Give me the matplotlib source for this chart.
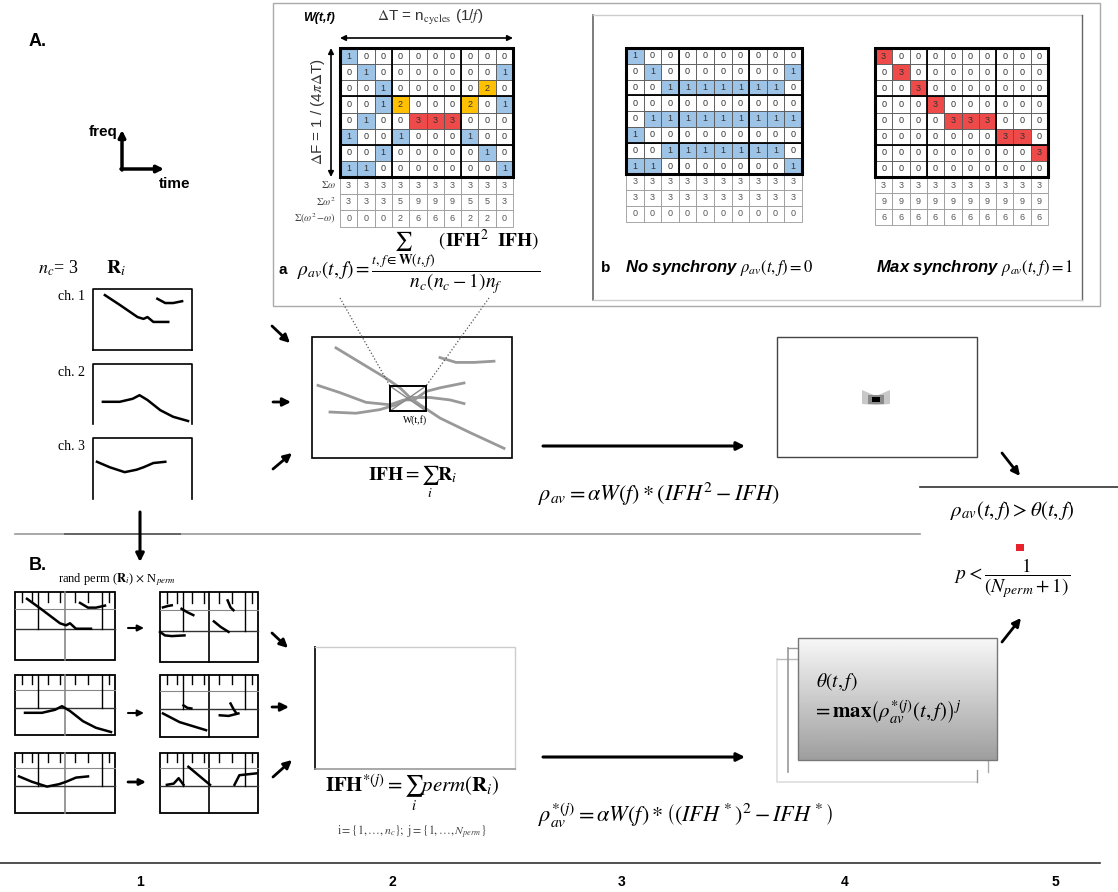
import numpy as np
import matplotlib
matplotlib.use("Agg")
import matplotlib.pyplot as plt
from matplotlib.patches import Rectangle, Polygon

plt.rcParams['mathtext.fontset'] = 'stix'
plt.rcParams['font.family'] = ['Liberation Serif', 'DejaVu Sans']
SANS = 'Liberation Sans'

# ---------------- data ----------------
# window matrices (0 = empty, 1 = blue, 2 = orange, 3 = red)
mat_a = [
    [1, 0, 0, 0, 0, 0, 0, 0, 0, 0],
    [0, 1, 0, 0, 0, 0, 0, 0, 0, 1],
    [0, 0, 1, 0, 0, 0, 0, 0, 2, 0],
    [0, 0, 1, 2, 0, 0, 0, 2, 0, 1],
    [0, 1, 0, 0, 3, 3, 3, 0, 0, 0],
    [1, 0, 0, 1, 0, 0, 0, 1, 0, 0],
    [0, 0, 1, 0, 0, 0, 0, 0, 1, 0],
    [1, 1, 0, 0, 0, 0, 0, 0, 0, 1],
]
mat_nosync = [
    [1, 0, 0, 0, 0, 0, 0, 0, 0, 0],
    [0, 1, 0, 0, 0, 0, 0, 0, 0, 1],
    [0, 0, 1, 1, 1, 1, 1, 1, 1, 0],
    [0, 0, 0, 0, 0, 0, 0, 0, 0, 0],
    [0, 1, 1, 1, 1, 1, 1, 1, 1, 1],
    [1, 0, 0, 0, 0, 0, 0, 0, 0, 0],
    [0, 0, 1, 1, 1, 1, 1, 1, 1, 0],
    [1, 1, 0, 0, 0, 0, 0, 0, 0, 1],
]
mat_maxsync = [
    [3, 0, 0, 0, 0, 0, 0, 0, 0, 0],
    [0, 3, 0, 0, 0, 0, 0, 0, 0, 0],
    [0, 0, 3, 0, 0, 0, 0, 0, 0, 0],
    [0, 0, 0, 3, 0, 0, 0, 0, 0, 0],
    [0, 0, 0, 0, 3, 3, 3, 0, 0, 0],
    [0, 0, 0, 0, 0, 0, 0, 3, 3, 0],
    [0, 0, 0, 0, 0, 0, 0, 0, 0, 3],
    [0, 0, 0, 0, 0, 0, 0, 0, 0, 0],
]
sum_labels = [r"$\Sigma\omega$", r"$\Sigma\omega^2$", r"$\Sigma(\omega^2\!-\!\omega)$"]
channel_labels = ["ch. 1", "ch. 2", "ch. 3"]
step_labels = ["1", "2", "3", "4", "5"]

# ridge traces per channel (relative x, relative y from top)
ch1_a_x = [0.12, 0.27, 0.45, 0.51, 0.55, 0.61, 0.76]
ch1_a_y = [0.10, 0.26, 0.46, 0.49, 0.46, 0.54, 0.54]
ch1_b_x = [0.65, 0.73, 0.81, 0.90]
ch1_b_y = [0.16, 0.23, 0.23, 0.20]
ch2_x = [0.10, 0.27, 0.40, 0.47, 0.55, 0.68, 0.81, 0.96]
ch2_y = [0.63, 0.63, 0.58, 0.52, 0.60, 0.77, 0.88, 0.95]
ch3_x = [0.04, 0.17, 0.32, 0.44, 0.51, 0.61, 0.73]
ch3_y = [0.39, 0.48, 0.56, 0.52, 0.48, 0.41, 0.39]

# permuted traces (relative coords)
perm1 = [([0.03, 0.08, 0.12], [0.22, 0.20, 0.19]),
         ([0.22, 0.28, 0.34], [0.24, 0.29, 0.33]),
         ([0.00, 0.05, 0.12, 0.25], [0.57, 0.62, 0.63, 0.62]),
         ([0.55, 0.62, 0.70], [0.42, 0.50, 0.57]),
         ([0.69, 0.72, 0.75], [0.12, 0.22, 0.26])]
perm2 = [([0.03, 0.20, 0.47], [0.62, 0.76, 0.89]),
         ([0.24, 0.28, 0.32], [0.49, 0.53, 0.54]),
         ([0.61, 0.70, 0.80], [0.65, 0.66, 0.62]),
         ([0.72, 0.75, 0.78], [0.46, 0.55, 0.62])]
perm3 = [([0.07, 0.14, 0.19, 0.24], [0.53, 0.51, 0.42, 0.53]),
         ([0.29, 0.40, 0.51], [0.23, 0.38, 0.53]),
         ([0.76, 0.81, 0.98], [0.53, 0.37, 0.34])]

# summed IFH traces (relative to IFH box)
ifh1_x = [0.12, 0.24, 0.37, 0.44, 0.49, 0.54, 0.64, 0.79, 0.96]
ifh1_y = [0.09, 0.21, 0.34, 0.42, 0.50, 0.56, 0.67, 0.79, 0.92]
ifh2_x = [0.03, 0.14, 0.27, 0.39, 0.46, 0.51, 0.57, 0.64, 0.76]
ifh2_y = [0.40, 0.46, 0.54, 0.56, 0.52, 0.52, 0.45, 0.42, 0.38]
ifh3_x = [0.09, 0.22, 0.34, 0.42, 0.49, 0.59, 0.69, 0.76]
ifh3_y = [0.62, 0.63, 0.60, 0.56, 0.50, 0.50, 0.52, 0.55]
ifh4_x = [0.64, 0.72, 0.81, 0.91]
ifh4_y = [0.17, 0.21, 0.21, 0.20]

cell_colors = {0: 'white', 1: '#9DC3E6', 2: '#FFC000', 3: '#EE4A4A'}

# ---------------- figure ----------------
fig = plt.figure(figsize=(11.18, 8.92), dpi=100)
ax = fig.add_axes([0, 0, 1, 1])
ax.set_xlim(0, 1118)
ax.set_ylim(892, 0)
ax.axis('off')


def arrow(x0, y0, x1, y1, lw=2.0, ms=12):
    ax.annotate('', xy=(x1, y1), xytext=(x0, y0),
                arrowprops=dict(arrowstyle='-|>', lw=lw, color='black',
                                mutation_scale=ms, shrinkA=0, shrinkB=0))


def rect(x0, y0, x1, y1, ec='black', lw=1.0, fc='none', z=1):
    ax.add_patch(Rectangle((x0, y0), x1 - x0, y1 - y0, fill=(fc != 'none'),
                           facecolor=fc, edgecolor=ec, lw=lw, zorder=z))


def draw_matrix(M, x0, y0, x1, y_main, y_end):
    M = np.array(M)
    nr, nc = M.shape
    cw = (x1 - x0) / nc
    rh = (y_main - y0) / nr
    eh = (y_end - y_main) / 3
    for r in range(nr):
        for c in range(nc):
            v = int(M[r, c])
            ax.add_patch(Rectangle((x0 + c * cw, y0 + r * rh), cw, rh,
                                   facecolor=cell_colors[v], edgecolor='#555555', lw=0.6, zorder=2))
            ax.text(x0 + (c + 0.5) * cw, y0 + (r + 0.5) * rh, str(v), ha='center', va='center',
                    fontsize=6.5, color='#333333', family=SANS, zorder=3)
    w = M
    rows = [w.sum(0), (w ** 2).sum(0), (w ** 2 - w).sum(0)]
    for k, vals in enumerate(rows):
        for c in range(nc):
            ax.add_patch(Rectangle((x0 + c * cw, y_main + k * eh), cw, eh, facecolor='white',
                                   edgecolor='#999999', lw=0.6, zorder=2))
            ax.text(x0 + (c + 0.5) * cw, y_main + (k + 0.5) * eh, str(int(vals[c])), ha='center',
                    va='center', fontsize=6.5, color='#555555', family=SANS, zorder=3)
    for c in (3, 7):
        ax.plot([x0 + c * cw] * 2, [y0, y_main], color='black', lw=1.3, zorder=4)
    for r in (3, 6):
        ax.plot([x0, x1], [y0 + r * rh] * 2, color='black', lw=1.3, zorder=4)
    rect(x0, y0, x1, y_main, lw=2.2, z=5)


# ---------- top panels ----------
rect(273, 3, 1100, 306, ec='#aaaaaa', lw=1.0)
ax.plot([593, 593], [15, 300], color='#666666', lw=1.2)
ax.plot([593, 1082], [15, 15], color='#cccccc', lw=1.0)
ax.plot([1082, 1082], [15, 300], color='#666666', lw=1.0)
ax.plot([593, 1082], [300, 300], color='#cccccc', lw=1.0)

draw_matrix(mat_a, 340, 48, 513, 177, 227)
draw_matrix(mat_nosync, 626, 48, 802, 174, 222)
draw_matrix(mat_maxsync, 875, 48, 1048, 177, 225)

ax.text(303, 18, "W(t,f)", fontsize=9, fontweight='bold', fontstyle='italic', family=SANS,
        ha='left', va='center')
ax.text(430, 18, r"$\Delta$T = n$_{\mathrm{cycles}}$ (1/$f$)", fontsize=11, family=SANS,
        ha='center', va='center', color='#333333')
ax.annotate('', xy=(513, 38), xytext=(340, 38),
            arrowprops=dict(arrowstyle='<|-|>', lw=1.2, color='black', mutation_scale=8,
                            shrinkA=0, shrinkB=0))
ax.annotate('', xy=(331, 177), xytext=(331, 48),
            arrowprops=dict(arrowstyle='<|-|>', lw=1.2, color='black', mutation_scale=8,
                            shrinkA=0, shrinkB=0))
ax.text(318, 112, r"$\Delta$F = 1 / (4$\pi\Delta$T)", fontsize=11, family=SANS, rotation=90,
        ha='center', va='center', color='#333333')
for k, lab in enumerate(sum_labels):
    ax.text(336, 185 + k * 16.7, lab, fontsize=7.5, ha='right', va='center', color='#444444')

ax.text(283, 270, "a", fontsize=11, fontweight='bold', family=SANS, ha='center', va='center')
ax.text(297, 262, r"$\rho_{av}(t,f)=\dfrac{\sum_{t,f\in\mathbf{W}(t,f)}\ \left(\mathbf{IFH}^2\ \ \mathbf{IFH}\right)}{n_c(n_c-1)n_f}$",
        fontsize=14, ha='left', va='center')
ax.text(606, 268, "b", fontsize=11, fontweight='bold', family=SANS, ha='center', va='center')
ax.text(625, 268, r"No synchrony $\rho_{av}(t,f)=0$", fontsize=12, fontstyle='italic',
        fontweight='bold', family=SANS, ha='left', va='center')
ax.text(876, 268, r"Max synchrony $\rho_{av}(t,f)=1$", fontsize=12, fontstyle='italic',
        fontweight='bold', family=SANS, ha='left', va='center')

# ---------- A label + axes icon ----------
ax.text(38, 42, "A.", fontsize=13, fontweight='bold', family=SANS, ha='center', va='center')
ax.annotate('', xy=(122, 130), xytext=(122, 170),
            arrowprops=dict(arrowstyle='-|>', lw=2.5, color='black', mutation_scale=10,
                            shrinkA=0, shrinkB=0))
ax.annotate('', xy=(164, 169), xytext=(121, 169),
            arrowprops=dict(arrowstyle='-|>', lw=2.5, color='black', mutation_scale=10,
                            shrinkA=0, shrinkB=0))
ax.text(103, 132, "freq", fontsize=11, fontweight='bold', family=SANS, ha='center', va='center')
ax.text(175, 184, "time", fontsize=11, fontweight='bold', family=SANS, ha='center', va='center')

# ---------- channels ----------
ax.text(58, 268, r"$n_c$= 3", fontsize=13, ha='center', va='center')
ax.text(116, 268, r"$\mathbf{R}_i$", fontsize=14, ha='center', va='center')
ch_boxes = [(93, 289, 192, 350), (93, 364, 192, 424), (93, 438, 192, 499)]
ch_curves = [[(ch1_a_x, ch1_a_y), (ch1_b_x, ch1_b_y)], [(ch2_x, ch2_y)], [(ch3_x, ch3_y)]]
for (x0, y0, x1, y1), lab, curves in zip(ch_boxes, channel_labels, ch_curves):
    ax.plot([x0, x0, x1, x1], [y1, y0, y0, y1], color='black', lw=1.2)
    if lab == "ch. 1":
        ax.plot([x0, x1], [y1, y1], color='black', lw=1.2)
    ax.text(85, y0 + 8, lab, fontsize=10, ha='right', va='center')
    for cx, cy in curves:
        ax.plot(x0 + np.array(cx) * (x1 - x0), y0 + np.array(cy) * (y1 - y0),
                color='black', lw=1.8)

arrow(272, 326, 290, 343)
arrow(273, 402, 291, 402)
arrow(273, 469, 292, 453)

# ---------- IFH box ----------
bx0, by0, bx1, by1 = 312, 337, 512, 458
rect(bx0, by0, bx1, by1, lw=1.2)
for cx, cy in [(ifh1_x, ifh1_y), (ifh2_x, ifh2_y), (ifh3_x, ifh3_y), (ifh4_x, ifh4_y)]:
    ax.plot(bx0 + np.array(cx) * (bx1 - bx0), by0 + np.array(cy) * (by1 - by0),
            color='#999999', lw=2.0)
rect(390, 386, 426, 411, lw=1.4, z=4)
ax.plot([390, 426], [386, 411], color='#888888', lw=1.0)
ax.plot([390, 426], [411, 386], color='#888888', lw=1.0)
ax.plot([340, 390], [298, 386], color='#555555', lw=0.9, ls=':')
ax.plot([489, 426], [298, 386], color='#555555', lw=0.9, ls=':')
ax.text(415, 420, "W(t,f)", fontsize=7, ha='center', va='center')
ax.text(413, 482, r"$\mathbf{IFH}=\sum_i \mathbf{R}_i$", fontsize=14, ha='center', va='center')

arrow(543, 446, 745, 446, lw=2.2, ms=12)
ax.text(538, 494, r"$\rho_{av}=\alpha W(f) * \left(IFH^2-IFH\right)$", fontsize=16,
        ha='left', va='center')

# ---------- result map ----------
rect(777, 337, 977, 457, lw=1.0, ec='#444444')
ax.add_patch(Polygon([(862, 390), (876, 396), (890, 390), (890, 404), (876, 405), (862, 404)],
                     closed=True, facecolor='#c8c8c8', edgecolor='none'))
ax.add_patch(Rectangle((868, 395), 16, 9, facecolor='#8a8a8a', edgecolor='none'))
ax.add_patch(Rectangle((872, 397), 8, 5, facecolor='black', edgecolor='none'))
arrow(1002, 453, 1020, 476)

# ---------- decision box ----------
ax.plot([920, 1118], [487, 487], color='#333333', lw=1.2)
ax.text(1012, 510, r"$\rho_{av}(t,f)>\theta(t,f)$", fontsize=15, ha='center', va='center')
ax.add_patch(Rectangle((1016, 544), 8, 7, facecolor='#E8222C', edgecolor='none'))
ax.text(1012, 578, r"$p<\dfrac{1}{(N_{perm}+1)}$", fontsize=14, ha='center', va='center')

# ---------- separator ----------
ax.plot([15, 920], [534, 534], color='#999999', lw=1.2)
ax.plot([65, 180], [534, 534], color='#666666', lw=1.4)
arrow(140, 512, 140, 562, lw=2.2, ms=12)

# ---------- B section ----------
ax.text(38, 565, "B.", fontsize=13, fontweight='bold', family=SANS, ha='center', va='center')
ax.text(117, 580, r"rand perm ($\mathbf{R}_i$) $\times$ N$_{perm}$", fontsize=9,
        ha='center', va='center')

left_boxes = [(15, 592, 115, 660), (15, 675, 115, 735), (15, 753, 115, 813)]
right_boxes = [(160, 592, 258, 662), (160, 675, 258, 737), (160, 753, 258, 813)]
tick_pos = [0.07, 0.17, 0.23, 0.33, 0.45, 0.60, 0.73, 0.87, 0.94]
long_ticks = [0.23, 0.87]


def perm_box(x0, y0, x1, y1, curves, center_col):
    w, h = x1 - x0, y1 - y0
    ax.plot([x0 + 0.5 * w] * 2, [y0, y1], color=center_col, lw=1.2)
    ax.plot([x0, x1], [y0 + 0.55 * h] * 2, color='#333333', lw=1.0)
    ax.plot([x0, x1], [y0 + 0.25 * h] * 2, color='#888888', lw=0.8)
    for t in tick_pos:
        ln = 0.55 if t in long_ticks else 0.15
        ax.plot([x0 + t * w] * 2, [y0, y0 + ln * h], color='black', lw=1.0)
    rect(x0, y0, x1, y1, lw=1.3)
    for cx, cy in curves:
        ax.plot(x0 + np.array(cx) * w, y0 + np.array(cy) * h, color='black', lw=1.8)


for box, curves in zip(left_boxes, ch_curves):
    perm_box(*box, curves, '#888888')
for box, curves in zip(right_boxes, [perm1, perm2, perm3]):
    perm_box(*box, curves, 'black')

arrow(128, 628, 144, 628, lw=1.5, ms=9)
arrow(128, 713, 144, 713, lw=1.5, ms=9)
arrow(128, 782, 146, 782, lw=2.0, ms=9)

arrow(272, 633, 288, 648)
arrow(272, 707, 289, 707)
arrow(273, 777, 292, 760)

# IFH* box
ax.plot([315, 315], [647, 769], color='#222222', lw=1.4)
ax.plot([315, 515, 515], [647, 647, 769], color='#cccccc', lw=1.0)
ax.plot([315, 515], [769, 769], color='#999999', lw=1.2)
ax.text(412, 793, r"$\mathbf{IFH}^{*(j)}=\sum_i perm(\mathbf{R}_i)$", fontsize=15,
        ha='center', va='center')
ax.text(412, 832, r"$\mathrm{i}=\{1,\ldots,n_c\};\ \mathrm{j}=\{1,\ldots,N_{perm}\}$", fontsize=8.5,
        ha='center', va='center', color='#444444')

arrow(543, 757, 745, 757, lw=2.2, ms=12)
ax.text(538, 816, r"$\rho_{av}^{*(j)}=\alpha W(f) * \left((IFH^*)^2-IFH^*\right)$", fontsize=16,
        ha='left', va='center')

# stacked threshold boxes
ax.plot([777, 777, 977], [659, 782, 782], color='#dddddd', lw=1.2)
ax.plot([777, 798], [659, 659], color='#bbbbbb', lw=1.0)
ax.plot([977, 977], [770, 782], color='#999999', lw=1.0)
ax.plot([788, 788], [648, 772], color='#999999', lw=1.2)
ax.plot([788, 798], [648, 648], color='#999999', lw=1.0)
ax.plot([988, 988], [760, 772], color='#aaaaaa', lw=1.0)
grad = np.linspace(0.97, 0.62, 100)[:, None] * np.ones((1, 2))
ax.imshow(grad, cmap='gray', vmin=0, vmax=1, extent=(798, 997, 760, 638), origin='upper',
          aspect='auto', zorder=3)
rect(798, 638, 997, 760, ec='#777777', lw=1.0, z=4)
ax.text(816, 682, r"$\theta(t,f)$", fontsize=14, ha='left', va='center', zorder=5)
ax.text(812, 712, r"$=\mathbf{max}\left(\rho_{av}^{*(j)}(t,f)\right)^j$", fontsize=15,
        ha='left', va='center', zorder=5)
arrow(1002, 642, 1021, 618)

# ---------- bottom axis ----------
ax.plot([0, 1100], [863, 863], color='#333333', lw=1.2)
for xp, lab in zip([140, 392, 622, 845, 1055], step_labels):
    ax.text(xp, 882, lab, fontsize=10, fontweight='bold', family=SANS, ha='center', va='center')

ax.set_xlim(0, 1118)
ax.set_ylim(892, 0)
fig.savefig("out.png", dpi=100)
